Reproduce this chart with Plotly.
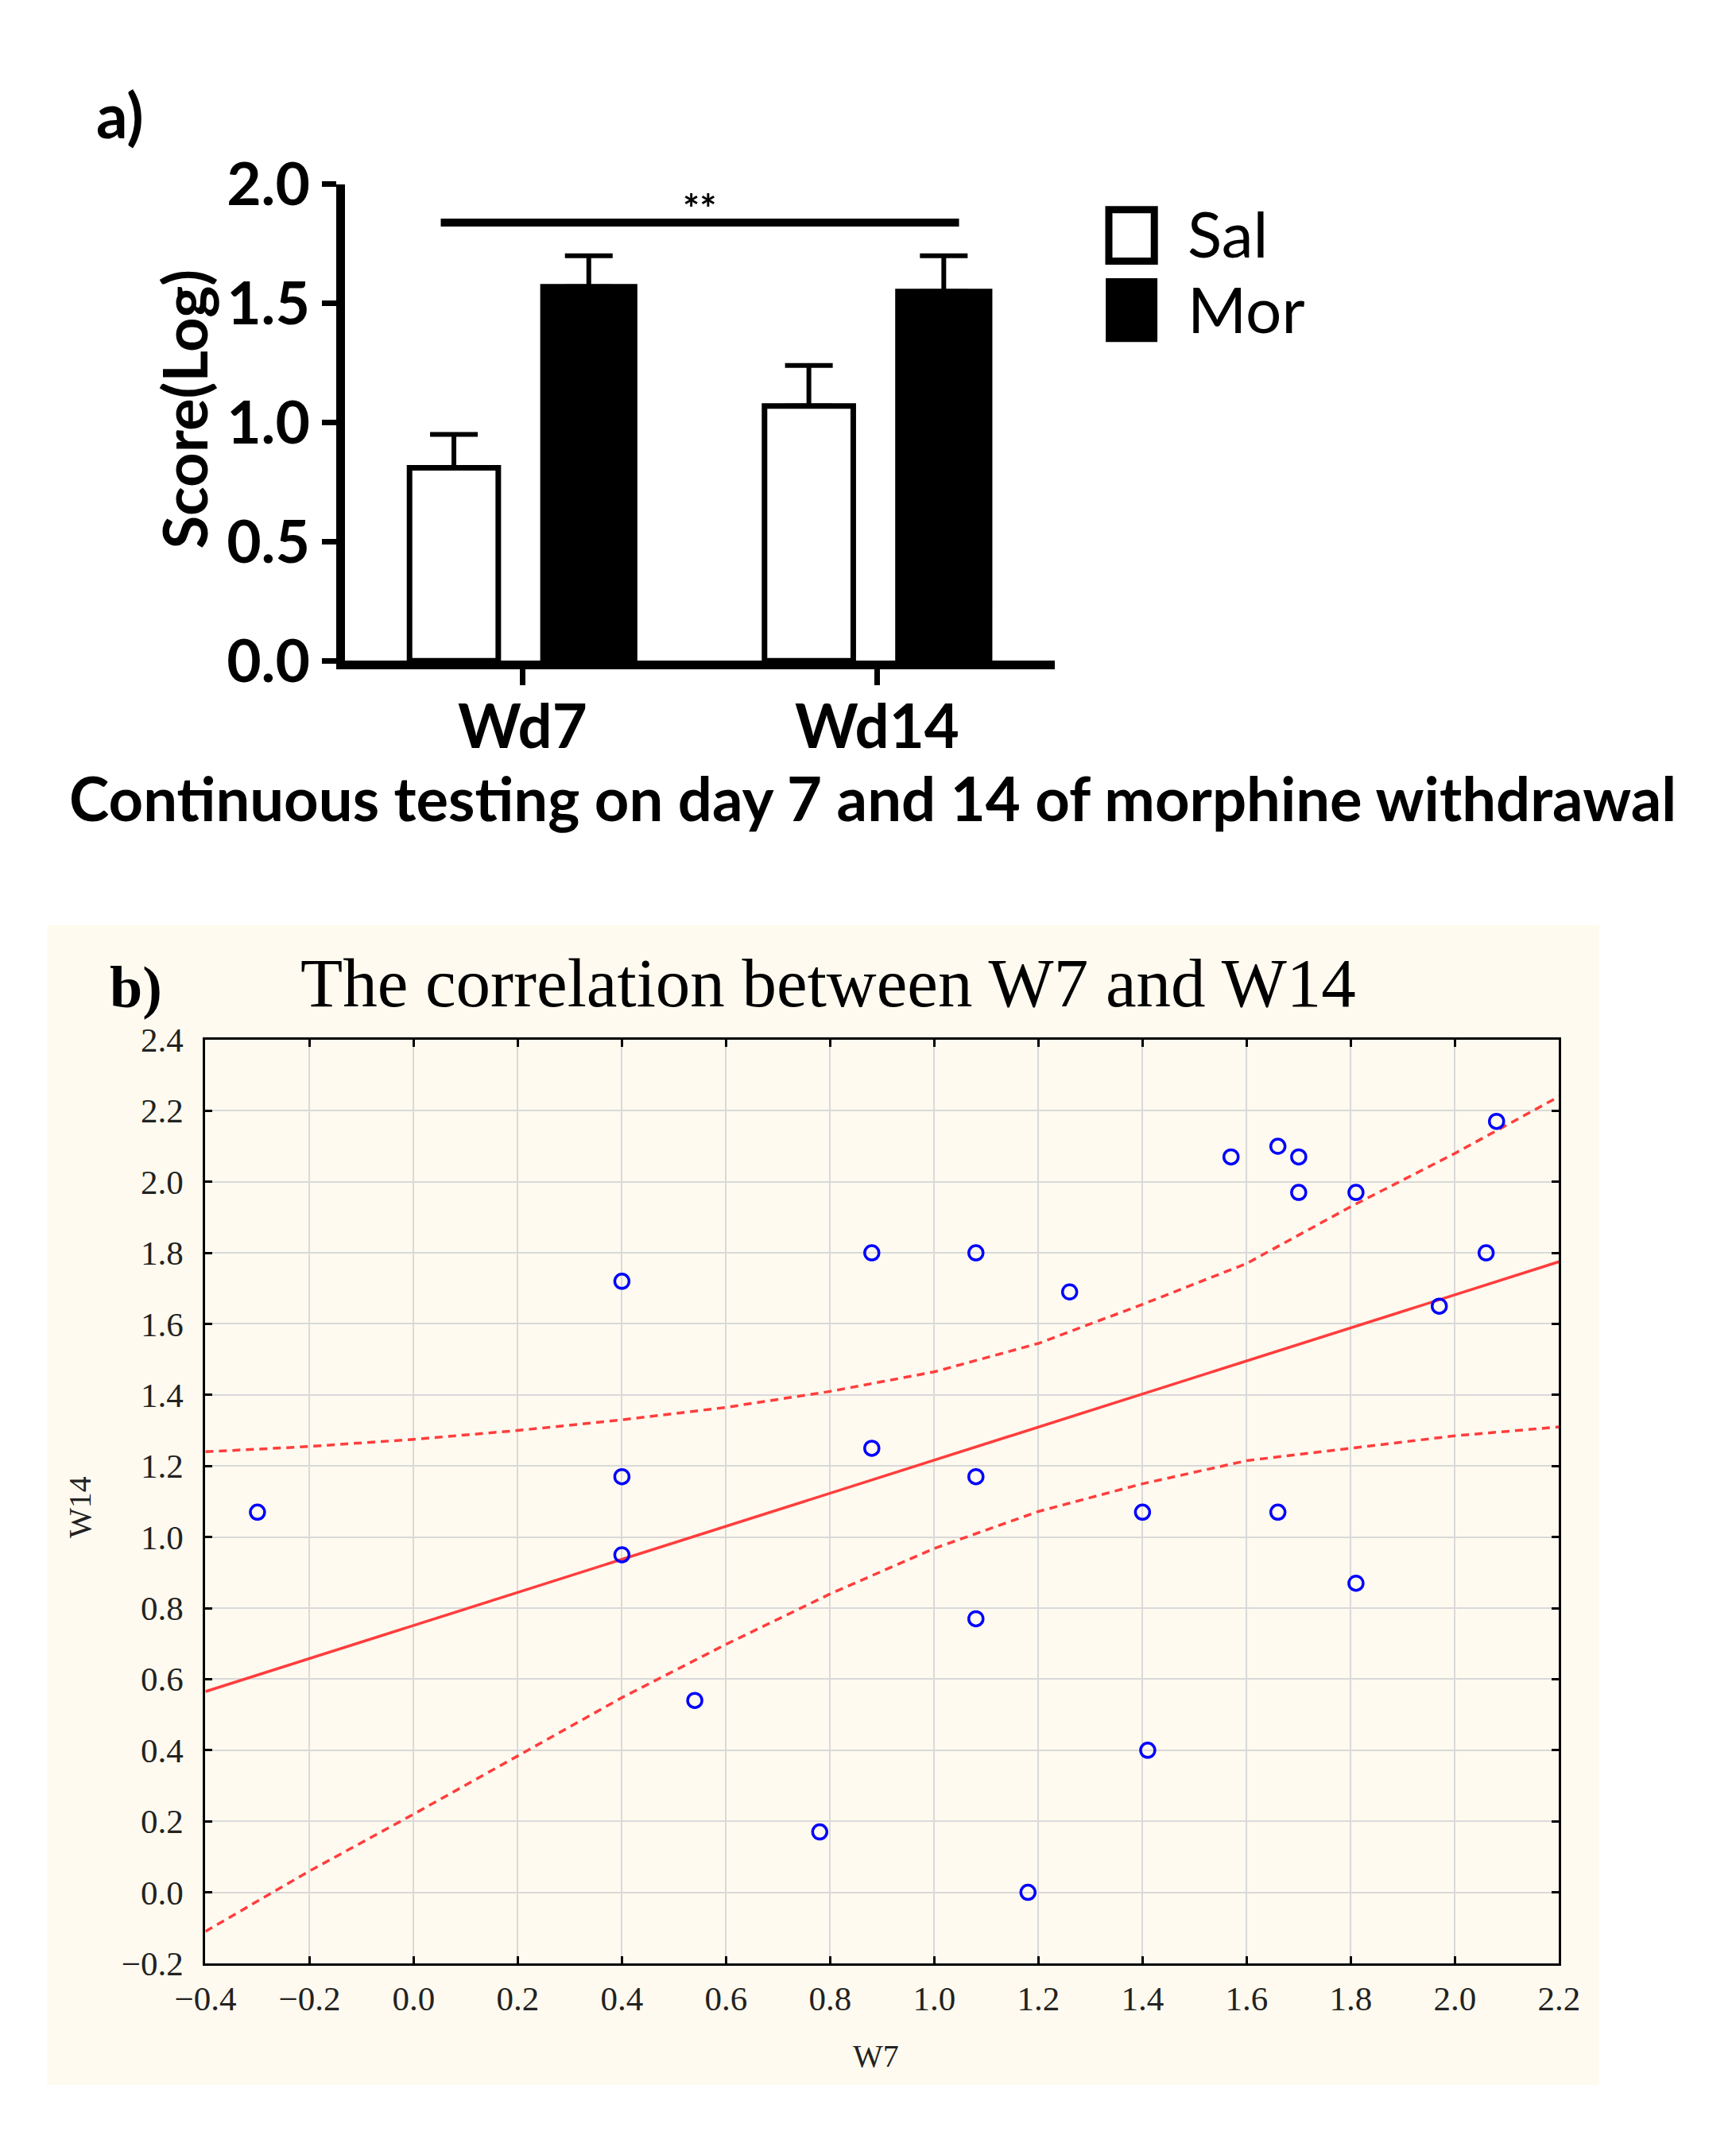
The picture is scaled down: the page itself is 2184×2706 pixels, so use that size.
import plotly.graph_objects as go

# ---- panel a data (bar chart) ----
groups = ["Wd7", "Wd14"]
group_pos = [0, 1]
sal_mean = [0.81, 1.07]
sal_err = [0.14, 0.17]
mor_mean = [1.57, 1.55]
mor_err = [0.13, 0.15]
sig_x = [-0.23, 1.23]
sig_y = [1.84, 1.84]
y_ticks_a = [0.0, 0.5, 1.0, 1.5, 2.0]

# ---- panel b data (scatter W7 vs W14) ----
w7 = [-0.30, 0.40, 0.40, 0.40, 0.54, 0.78, 0.88, 0.88, 1.08, 1.08, 1.08, 1.18, 1.26,
      1.40, 1.41, 1.57, 1.66, 1.70, 1.70, 1.66, 1.81, 1.81, 1.97, 2.06, 2.08]
w14 = [1.07, 1.72, 1.17, 0.95, 0.54, 0.17, 1.80, 1.25, 1.80, 1.17, 0.77, 0.00, 1.69,
       1.07, 0.40, 2.07, 2.10, 2.07, 1.97, 1.07, 1.97, 0.87, 1.65, 1.80, 2.17]
fit_x = [-0.4, 2.2]
fit_y = [0.565, 1.775]
band_x = [-0.4, -0.2, 0.0, 0.2, 0.4, 0.6, 0.8, 1.0, 1.2, 1.4, 1.6, 1.8, 2.0, 2.2]
band_hi = [1.24, 1.255, 1.275, 1.30, 1.33, 1.365, 1.41, 1.465, 1.545, 1.655, 1.77, 1.93, 2.08, 2.24]
band_lo = [-0.11, 0.06, 0.22, 0.385, 0.548, 0.698, 0.84, 0.968, 1.072, 1.15, 1.215, 1.25, 1.285, 1.31]

W, H = 2184, 2706
FONT_A = "Lato, Open Sans, sans-serif"
FONT_B = "Liberation Serif, Times New Roman, serif"
RED = "#ff3d3d"


def px(x):
    return x / W


def py(y):
    return 1 - y / H


fig = go.Figure()

# bars
fig.add_trace(go.Bar(
    x=group_pos, y=sal_mean, name="Sal",
    offset=-0.318, width=0.25,
    marker=dict(color="white", line=dict(color="black", width=7)),
    error_y=dict(type="data", symmetric=False, array=sal_err, arrayminus=[0, 0],
                 color="black", thickness=6, width=30),
    xaxis="x", yaxis="y", showlegend=False,
))
fig.add_trace(go.Bar(
    x=group_pos, y=mor_mean, name="Mor",
    offset=0.058, width=0.258,
    marker=dict(color="black", line=dict(color="black", width=7)),
    error_y=dict(type="data", symmetric=False, array=mor_err, arrayminus=[0, 0],
                 color="black", thickness=6, width=30),
    xaxis="x", yaxis="y", showlegend=False,
))
fig.add_trace(go.Scatter(
    x=sig_x, y=sig_y, mode="lines", line=dict(color="black", width=10),
    xaxis="x", yaxis="y", showlegend=False, hoverinfo="skip",
))

# scatter panel
for band in (band_hi, band_lo):
    fig.add_trace(go.Scatter(
        x=band_x, y=band, mode="lines",
        line=dict(color=RED, width=3.5, dash="10px,7px"),
        xaxis="x2", yaxis="y2", showlegend=False,
    ))
fig.add_trace(go.Scatter(
    x=fit_x, y=fit_y, mode="lines",
    line=dict(color=RED, width=3.5),
    xaxis="x2", yaxis="y2", showlegend=False,
))
fig.add_trace(go.Scatter(
    x=w7, y=w14, mode="markers",
    marker=dict(symbol="circle-open", size=18, color="#0000ff", line=dict(width=3.5, color="#0000ff")),
    xaxis="x2", yaxis="y2", showlegend=False,
))

shapes = [
    # beige panel behind plot b
    dict(type="rect", xref="paper", yref="paper", layer="below",
         x0=px(13), x1=px(2026), y0=py(2655), y1=py(1146),
         fillcolor="#fffaef", line=dict(width=0)),
    # legend boxes
    dict(type="rect", xref="paper", yref="paper",
         x0=px(1390), x1=px(1449), y0=py(282), y1=py(215),
         fillcolor="white", line=dict(color="black", width=9)),
    dict(type="rect", xref="paper", yref="paper",
         x0=px(1386), x1=px(1453), y0=py(387), y1=py(304),
         fillcolor="black", line=dict(color="black", width=0)),
]

annotations = [
    dict(text="<b>a)</b>", x=px(74), y=py(91), xref="paper", yref="paper",
         xanchor="left", yanchor="middle", showarrow=False,
         font=dict(family=FONT_A, size=78, color="black")),
    dict(text="<b>Score(Log)</b>", x=px(190), y=py(474), xref="paper", yref="paper",
         textangle=-90, showarrow=False, xanchor="center", yanchor="middle",
         font=dict(family=FONT_A, size=76, color="black")),
    dict(text="<b>**</b>", x=0.5, y=1.90, xref="x", yref="y", showarrow=False,
         font=dict(family=FONT_A, size=50, color="black")),
    dict(text="Sal", x=px(1490), y=py(245), xref="paper", yref="paper",
         xanchor="left", yanchor="middle", showarrow=False,
         font=dict(family=FONT_A, size=80, color="black")),
    dict(text="Mor", x=px(1490), y=py(343), xref="paper", yref="paper",
         xanchor="left", yanchor="middle", showarrow=False,
         font=dict(family=FONT_A, size=80, color="black")),
    dict(text="<b>Continuous testing on day 7 and 14 of morphine withdrawal</b>",
         x=px(1084), y=py(980), xref="paper", yref="paper",
         xanchor="center", yanchor="middle", showarrow=False,
         font=dict(family=FONT_A, size=76, color="black")),
    dict(text="<b>b)</b>", x=px(92), y=py(1227), xref="paper", yref="paper",
         xanchor="left", yanchor="middle", showarrow=False,
         font=dict(family=FONT_B, size=74, color="black")),
    dict(text="The correlation between W7 and W14", x=px(1026), y=py(1221),
         xref="paper", yref="paper", xanchor="center", yanchor="middle", showarrow=False,
         font=dict(family=FONT_B, size=87, color="black")),
    dict(text="W7", x=px(1088), y=py(2618), xref="paper", yref="paper",
         xanchor="center", yanchor="middle", showarrow=False,
         font=dict(family=FONT_B, size=40, color="#222222")),
    dict(text="W14", x=px(55), y=py(1903), xref="paper", yref="paper", textangle=-90,
         xanchor="center", yanchor="middle", showarrow=False,
         font=dict(family=FONT_B, size=40, color="#222222")),
]

# category labels under the bar groups
for pos, name in zip(group_pos, groups):
    annotations.append(dict(
        text="<b>%s</b>" % name, x=pos, y=py(885), xref="x", yref="paper",
        xanchor="center", yanchor="middle", showarrow=False,
        font=dict(family=FONT_A, size=76, color="black")))

fig.update_layout(
    width=W, height=H,
    margin=dict(l=0, r=0, t=0, b=0),
    paper_bgcolor="white", plot_bgcolor="white",
    barmode="overlay",
    shapes=shapes, annotations=annotations,
    xaxis=dict(
        domain=[px(399), px(1320)], range=[-0.5, 1.5],
        tickvals=group_pos, showticklabels=False,
        showgrid=False, zeroline=False,
        showline=True, linecolor="black", linewidth=11,
        ticks="outside", ticklen=20, tickwidth=7, tickcolor="black",
        anchor="y",
    ),
    yaxis=dict(
        domain=[py(802), py(182)], range=[0, 2.0],
        tickvals=y_ticks_a, tickformat=".1f",
        showgrid=False, zeroline=False,
        showline=True, linecolor="black", linewidth=11,
        ticks="outside", ticklen=18, tickwidth=7, tickcolor="black",
        tickfont=dict(family=FONT_A, size=75, color="black", weight="bold"),
        anchor="x",
    ),
    xaxis2=dict(
        domain=[px(218), px(1974)], range=[-0.4, 2.2], dtick=0.2, tick0=-0.4,
        tickformat=".1f",
        showgrid=True, gridcolor="#d9d9d9", gridwidth=2, zeroline=False,
        showline=True, linecolor="black", linewidth=3, mirror="ticks",
        ticks="inside", ticklen=9, tickwidth=3, tickcolor="black",
        ticklabelstandoff=4,
        tickfont=dict(family=FONT_B, size=43, color="#222222"),
        anchor="y2",
    ),
    yaxis2=dict(
        domain=[py(2497), py(1295)], range=[-0.2, 2.4], dtick=0.2, tick0=-0.2,
        tickformat=".1f",
        showgrid=True, gridcolor="#d9d9d9", gridwidth=2, zeroline=False,
        showline=True, linecolor="black", linewidth=3, mirror="ticks",
        ticks="inside", ticklen=9, tickwidth=3, tickcolor="black",
        ticklabelstandoff=16,
        tickfont=dict(family=FONT_B, size=43, color="#222222"),
        anchor="x2",
    ),
)

fig.write_html("out.html")
